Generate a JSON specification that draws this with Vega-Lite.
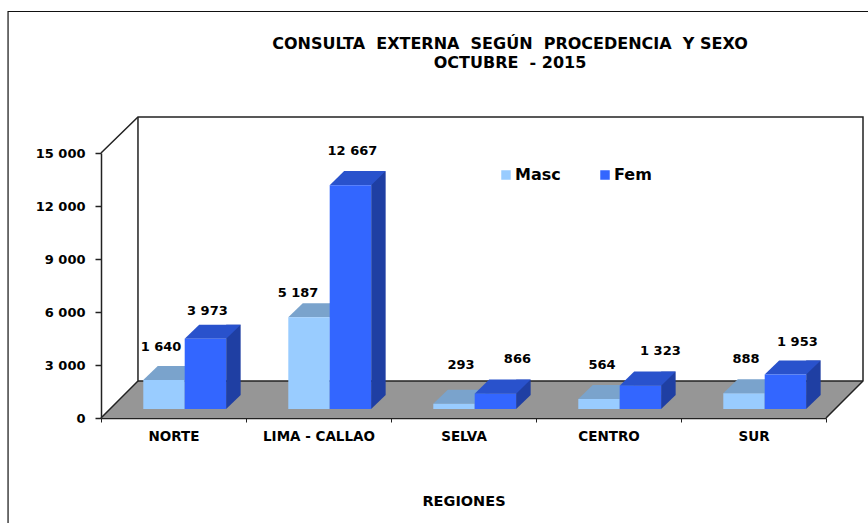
{
"$schema":"https://vega.github.io/schema/vega-lite/v6.json",
"width":762,"height":301,
"autosize":{"type":"none"},
"padding":{"left":101,"top":117,"right":5,"bottom":105},
"background":"white",
"config":{"view":{"stroke":null},"font":"DejaVu Sans","locale":{"number":{"decimal":".","thousands":" ","grouping":[3],"currency":["",""]}}},
"title":{"text":["CONSULTA\u00a0\u00a0EXTERNA\u00a0\u00a0SEGÚN\u00a0\u00a0PROCEDENCIA\u00a0\u00a0Y SEXO","OCTUBRE\u00a0\u00a0- 2015"],"anchor":"middle","dx":28,"offset":-61.5,"lineHeight":19,"font":"DejaVu Sans","fontSize":16,"fontWeight":"bold","color":"black"},
"datasets":{
"bars":[
{"region":"NORTE","sex":"Masc","value":1640},{"region":"NORTE","sex":"Fem","value":3973},
{"region":"LIMA - CALLAO","sex":"Masc","value":5187},{"region":"LIMA - CALLAO","sex":"Fem","value":12667},
{"region":"SELVA","sex":"Masc","value":293},{"region":"SELVA","sex":"Fem","value":866},
{"region":"CENTRO","sex":"Masc","value":564},{"region":"CENTRO","sex":"Fem","value":1323},
{"region":"SUR","sex":"Masc","value":888},{"region":"SUR","sex":"Fem","value":1953}]
},
"resolve":{"scale":{"x":"independent","xOffset":"independent"},"axis":{"y":"independent"}},
"layer":[
{"data":{"values":[{"u":0,"back":0,"front":0},{"u":0.255,"back":2094,"front":0},{"u":5,"back":2094,"front":0},{"u":5.255,"back":2094,"front":2094}]},
 "mark":{"type":"area","color":"#969696","opacity":1},
 "encoding":{
  "x":{"field":"u","type":"quantitative","scale":{"domain":[0,5.255],"range":[0,762],"nice":false,"zero":false},"axis":null},
  "y":{"field":"back","type":"quantitative","stack":null,"scale":{"domain":[0,15000],"range":[301,36],"nice":false},
   "axis":{"title":null,"values":[0,3000,6000,9000,12000,15000],"format":",d","grid":false,"tickSize":6,"tickColor":"#222","domainColor":"#222","domainWidth":1.5,"tickWidth":1.5,"labelPadding":10,"labelFont":"DejaVu Sans","labelFontWeight":"bold","labelFontSize":13,"labelColor":"black"}},
  "y2":{"field":"front"}}},
{"data":{"values":[
 {"edge":"wall","ord":1,"u":0,"v":15000},{"edge":"wall","ord":2,"u":0.255,"v":17038},{"edge":"wall","ord":3,"u":5.255,"v":17038},{"edge":"wall","ord":4,"u":5.255,"v":2094},{"edge":"wall","ord":5,"u":5,"v":0},
 {"edge":"corner","ord":1,"u":0.255,"v":17038},{"edge":"corner","ord":2,"u":0.255,"v":2094},{"edge":"corner","ord":3,"u":0,"v":0},
 {"edge":"floorback","ord":1,"u":0.255,"v":2094},{"edge":"floorback","ord":2,"u":5.255,"v":2094}]},
 "mark":{"type":"line","color":"#222","strokeWidth":1.5,"clip":false},
 "encoding":{
  "x":{"field":"u","type":"quantitative","scale":{"domain":[0,5.255],"range":[0,762],"nice":false,"zero":false},"axis":null},
  "y":{"field":"v","type":"quantitative","axis":null},
  "detail":{"field":"edge"},
  "order":{"field":"ord"}}},
{"data":{"values":[
 {"ord":1,"u":5.29,"v":23009},{"ord":2,"u":-0.641,"v":23009},{"ord":3,"u":-0.641,"v":-5943}]},
 "mark":{"type":"line","color":"#111","strokeWidth":1.2,"clip":false},
 "encoding":{
  "x":{"field":"u","type":"quantitative","scale":{"domain":[0,5.255],"range":[0,762],"nice":false,"zero":false},"axis":null},
  "y":{"field":"v","type":"quantitative","axis":null},
  "order":{"field":"ord"}}},
{"data":{"name":"bars"},
 "mark":{"type":"bar","width":14.5,"yOffset":-23,"y2Offset":-23,"opacity":1},
 "encoding":{
  "x":{"field":"region","type":"nominal","scale":{"domain":["NORTE","LIMA - CALLAO","SELVA","CENTRO","SUR"],"range":[0,725],"paddingInner":0,"paddingOuter":0},"axis":null},
  "xOffset":{"field":"sex","type":"nominal","scale":{"domain":["Masc","Fem"],"range":[70.3,153.1],"paddingInner":0,"paddingOuter":0}},
  "y":{"field":"value","type":"quantitative","stack":null,"axis":null},
  "y2":{"datum":0},
  "color":{"field":"sex","type":"nominal","legend":null,"scale":{"domain":["Masc","Fem"],"range":["#6E8FB3","#1F3FA3"]}}}},
{"data":{"name":"bars"},
 "resolve":{"scale":{"color":"independent"}},
 "encoding":{
  "x":{"field":"region","type":"nominal","scale":{"domain":["NORTE","LIMA - CALLAO","SELVA","CENTRO","SUR"],"range":[0,725],"paddingInner":0,"paddingOuter":0},
   "axis":{"title":"REGIONES","labelAngle":0,"tickBand":"extent","tickSize":4,"tickColor":"#222","domainColor":"#222","domainWidth":1.5,"labelPadding":7,"labelFontWeight":"bold","labelFontSize":13.5,"labelColor":"black","labelFont":"DejaVu Sans","titleFont":"DejaVu Sans","titleFontSize":14.5,"titleFontWeight":"bold","titleColor":"black","titlePadding":52}},
  "xOffset":{"field":"sex","type":"nominal","scale":{"domain":["Masc","Fem"],"range":[42.3,125.1],"paddingInner":0,"paddingOuter":0}},
  "y":{"field":"value","type":"quantitative","stack":null,"axis":null}},
 "layer":[
  {"mark":{"type":"point","filled":true,"opacity":1,"size":1722,"shape":"M1,0L1,-0.68L1.7,-0.68Z","yOffset":-9},
   "encoding":{"y":{"datum":0},"color":{"field":"sex","type":"nominal","legend":null,"scale":{"domain":["Masc","Fem"],"range":["#6E8FB3","#1F3FA3"]}}}},
  {"mark":{"type":"point","filled":true,"opacity":1,"size":1722,"shape":"M-1,0L1,0L1.7,-0.68L-0.3,-0.68Z","yOffset":-9},
   "encoding":{"color":{"field":"sex","type":"nominal","legend":null,"scale":{"domain":["Masc","Fem"],"range":["#7AA3CC","#2952CC"]}}}},
  {"mark":{"type":"bar","yOffset":-9,"y2Offset":-9,"opacity":1},
   "encoding":{"y2":{"datum":0},"color":{"field":"sex","type":"nominal","scale":{"domain":["Masc","Fem"],"range":["#99CCFF","#3366FF"]},
    "legend":{"title":null,"orient":"none","legendX":397,"legendY":50,"direction":"horizontal","columns":2,"symbolType":"square","symbolSize":90,"symbolStrokeWidth":0,"labelFont":"DejaVu Sans","labelFontWeight":"bold","labelFontSize":16,"labelColor":"black","labelOffset":1,"columnPadding":36}}}},
  {"transform":[{"filter":"datum.region==='NORTE'&&datum.sex==='Masc'"}],"mark":{"type":"text","dx":-3,"dy":-42,"fontSize":13,"fontWeight":"bold","color":"black"},"encoding":{"text":{"field":"value","format":",d"}}},
  {"transform":[{"filter":"datum.region==='NORTE'&&datum.sex==='Fem'"}],"mark":{"type":"text","dx":2,"dy":-37,"fontSize":13,"fontWeight":"bold","color":"black"},"encoding":{"text":{"field":"value","format":",d"}}},
  {"transform":[{"filter":"datum.region==='LIMA - CALLAO'&&datum.sex==='Masc'"}],"mark":{"type":"text","dx":-11,"dy":-33,"fontSize":13,"fontWeight":"bold","color":"black"},"encoding":{"text":{"field":"value","format":",d"}}},
  {"transform":[{"filter":"datum.region==='LIMA - CALLAO'&&datum.sex==='Fem'"}],"mark":{"type":"text","dx":2,"dy":-43,"fontSize":13,"fontWeight":"bold","color":"black"},"encoding":{"text":{"field":"value","format":",d"}}},
  {"transform":[{"filter":"datum.region==='SELVA'&&datum.sex==='Masc'"}],"mark":{"type":"text","dx":7,"dy":-48,"fontSize":13,"fontWeight":"bold","color":"black"},"encoding":{"text":{"field":"value","format":",d"}}},
  {"transform":[{"filter":"datum.region==='SELVA'&&datum.sex==='Fem'"}],"mark":{"type":"text","dx":22,"dy":-44,"fontSize":13,"fontWeight":"bold","color":"black"},"encoding":{"text":{"field":"value","format":",d"}}},
  {"transform":[{"filter":"datum.region==='CENTRO'&&datum.sex==='Masc'"}],"mark":{"type":"text","dx":3,"dy":-43,"fontSize":13,"fontWeight":"bold","color":"black"},"encoding":{"text":{"field":"value","format":",d"}}},
  {"transform":[{"filter":"datum.region==='CENTRO'&&datum.sex==='Fem'"}],"mark":{"type":"text","dx":20,"dy":-44,"fontSize":13,"fontWeight":"bold","color":"black"},"encoding":{"text":{"field":"value","format":",d"}}},
  {"transform":[{"filter":"datum.region==='SUR'&&datum.sex==='Masc'"}],"mark":{"type":"text","dx":2,"dy":-43,"fontSize":13,"fontWeight":"bold","color":"black"},"encoding":{"text":{"field":"value","format":",d"}}},
  {"transform":[{"filter":"datum.region==='SUR'&&datum.sex==='Fem'"}],"mark":{"type":"text","dx":12,"dy":-41,"fontSize":13,"fontWeight":"bold","color":"black"},"encoding":{"text":{"field":"value","format":",d"}}}
 ]}
]
}
